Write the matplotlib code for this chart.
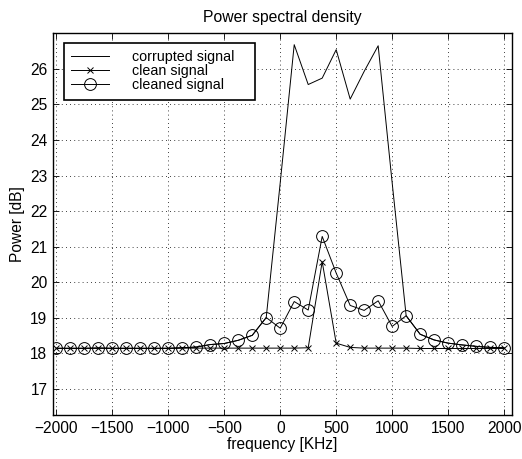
import numpy as np
import matplotlib.pyplot as plt

plt.rcParams['font.family'] = ['Liberation Sans', 'DejaVu Sans']
plt.rcParams['font.size'] = 11

# frequency bins [KHz]
freq = np.arange(-2000, 2001, 125)

# clean signal (x markers)
clean = [18.15, 18.15, 18.15, 18.15, 18.15, 18.15, 18.15, 18.15, 18.15, 18.15,
         18.15, 18.15, 18.15, 18.15, 18.15, 18.15, 18.15, 18.15, 18.16, 20.58,
         18.29, 18.17, 18.15, 18.15, 18.15, 18.15, 18.14, 18.14, 18.14, 18.14,
         18.14, 18.14, 18.14]

# cleaned signal (circles)
cleaned = [18.14, 18.14, 18.14, 18.15, 18.14, 18.14, 18.14, 18.14, 18.14, 18.16,
           18.18, 18.25, 18.28, 18.37, 18.51, 19.01, 18.71, 19.46, 19.22, 21.29,
           20.26, 19.35, 19.21, 19.48, 18.76, 19.06, 18.54, 18.38, 18.29, 18.24,
           18.20, 18.17, 18.16]

# corrupted signal
corrupted = [18.14, 18.14, 18.14, 18.15, 18.14, 18.14, 18.14, 18.14, 18.14, 18.16,
             18.18, 18.25, 18.28, 18.37, 18.51, 19.01, 22.8, 26.68, 25.56, 25.74,
             26.54, 25.15, 25.93, 26.65, 22.8, 19.06, 18.54, 18.38, 18.29, 18.24,
             18.20, 18.17, 18.16]

fig = plt.figure(figsize=(5.22, 4.59), dpi=100)
ax = fig.add_axes([53 / 522, 44 / 459, (511.7 - 53) / 522, (415 - 33.3) / 459])

ax.plot(freq, corrupted, '-', color='black', lw=0.7, label='corrupted signal')
ax.plot(freq, clean, '-x', color='black', lw=0.7, ms=5, mew=0.7,
        label='clean signal')
ax.plot(freq, cleaned, '-o', color='black', lw=0.7, ms=8.5, mew=0.7,
        mfc='none', label='cleaned signal')

ax.set_xlim(-2030, 2068)
ax.set_ylim(16.27, 27.0)
ax.set_xticks(np.arange(-2000, 2001, 500))
ax.set_yticks(np.arange(17, 27, 1))

ax.grid(True, linestyle=(0, (1, 4)), color='black', lw=0.6)
ax.tick_params(direction='in', top=True, right=True, length=4, width=0.6,
               labelsize=11.2, pad=4)
for s in ax.spines.values():
    s.set_linewidth(1.0)

ax.set_title('Power spectral density', fontsize=11.3, pad=8)
ax.set_xlabel('frequency [KHz]', fontsize=11.2, labelpad=1)
ax.set_ylabel('Power [dB]', fontsize=11.2, labelpad=4)

leg = ax.legend(loc='upper left', bbox_to_anchor=(0.0246, 0.0, 0.416, 0.974),
                mode='expand', fancybox=False, edgecolor='black', framealpha=1,
                fontsize=10.3, handlelength=2.6, handletextpad=1.65,
                labelspacing=0.0, borderpad=0.5, borderaxespad=0)
leg.get_frame().set_linewidth(1.2)

fig.savefig('out.png', dpi=100)
